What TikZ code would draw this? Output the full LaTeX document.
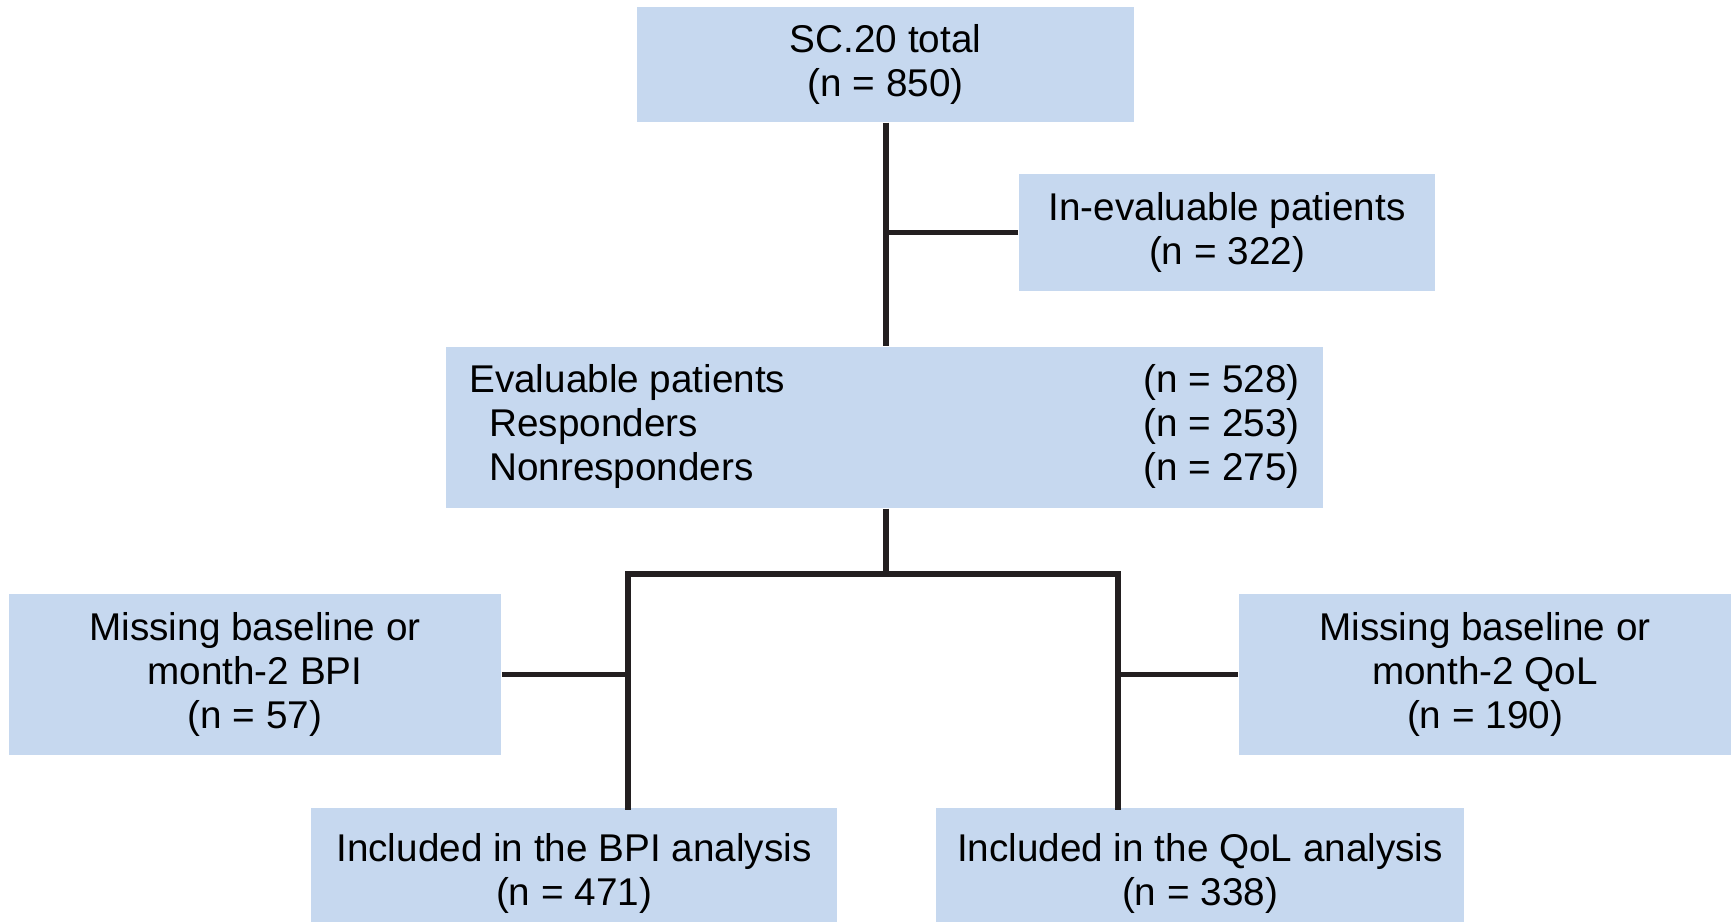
\documentclass[tikz,border=0pt]{standalone}
\usepackage{fontspec}
\setmainfont{Liberation Sans}
\usetikzlibrary{positioning, calc}
\definecolor{boxBlue}{RGB}{198,216,239}
\definecolor{lineGrey}{RGB}{35,31,32}
\tikzset{
  font=\fontsize{11pt}{12.5pt}\selectfont,
  fbox/.style={rectangle, fill=boxBlue, inner sep=0pt, align=center},
  link/.style={draw=lineGrey, line width=1.6pt}
}

\begin{document}
\begin{tikzpicture}[x=0.01cm, y=-0.01cm]
    \clip (0,0) rectangle (1733,922);
    \node[fbox, minimum width=4.97cm, minimum height=1.15cm] (total) at (885.5,64.5) {SC.20 total\\(n = 850)};
    \node[fbox, minimum width=4.16cm, minimum height=1.17cm] (ineval) at (1227,232.5) {In-evaluable patients\\(n = 322)};
    \node[fbox, minimum width=8.77cm, minimum height=1.61cm] (evaluable) at (884.5,427.5) {%
      \begin{tabular*}{8.3cm}{@{}l@{\extracolsep{\fill}}r@{}}
        Evaluable patients & (n = 528)\\
        \hspace*{0.2cm}Responders & (n = 253)\\
        \hspace*{0.2cm}Nonresponders & (n = 275)
      \end{tabular*}};
    \node[fbox, minimum width=4.92cm, minimum height=1.61cm] (missbpi) at (255,674.5) {Missing baseline or\\month-2 BPI\\(n = 57)};
    \node[fbox, minimum width=4.92cm, minimum height=1.61cm] (missqol) at (1485,674.5) {Missing baseline or\\month-2 QoL\\(n = 190)};
    \node[fbox, minimum width=5.26cm, minimum height=1.31cm] (inclbpi) at (574,873.5) {Included in the BPI analysis\\(n = 471)};
    \node[fbox, minimum width=5.28cm, minimum height=1.31cm] (inclqol) at (1200,873.5) {Included in the QoL analysis\\(n = 338)};

    \coordinate (busL) at (628,574);
    \coordinate (busR) at (1118,574);

    \draw[link] (total.south -| 886,0) -- (evaluable.north -| 886,0);
    \draw[link] (ineval.west) -- (ineval.west -| 886,0);
    \draw[link] (evaluable.south -| 886,0) -- (busL -| 886,0);
    \draw[link, line cap=rect] (inclbpi.north -| busL) -- (busL) -- (busR) -- (inclqol.north -| busR);
    \draw[link] (missbpi.east) -- (missbpi.east -| busL);
    \draw[link] (missqol.west) -- (missqol.west -| busR);
  \end{tikzpicture}
\end{document}
